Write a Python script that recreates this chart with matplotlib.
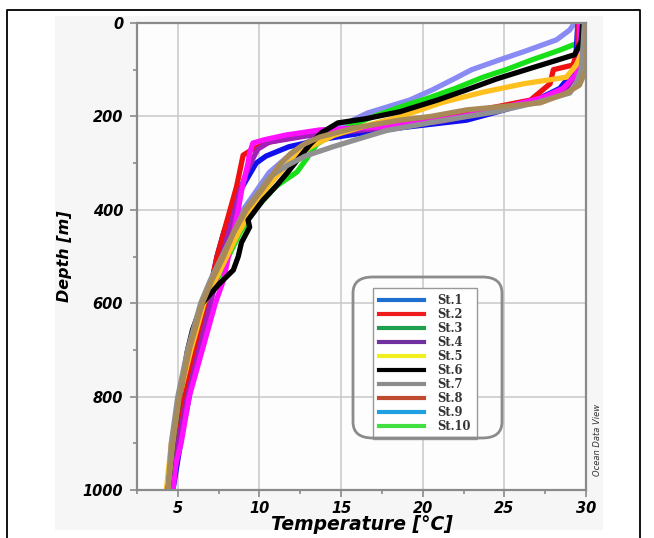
import numpy as np
import matplotlib.pyplot as plt
from matplotlib.lines import Line2D
from matplotlib.patches import FancyBboxPatch, Rectangle

# station profiles: depth (m) and temperature (degC)
st_names = ['St.1', 'St.2', 'St.3', 'St.4', 'St.5', 'St.6', 'St.7', 'St.8', 'St.9', 'St.10']
leg_colors = ['#1f6fd0', '#ee1c1c', '#1fa050', '#7030a0', '#f0f020',
              '#000000', '#8c8c8c', '#c04a30', '#20a0e0', '#40e040']

lav_d = [0, 15, 36, 60, 79, 100, 120, 143, 165, 193, 210, 225, 245, 265, 290, 320, 360, 400, 450, 500, 560, 600, 700, 800, 900, 1000]
lav_t = [29.3, 29.0, 28.2, 26.3, 24.7, 23.0, 21.9, 20.6, 19.2, 16.6, 15.6, 14.6, 13.4, 12.5, 11.6, 10.6, 9.8, 9.0, 8.3, 7.8, 7.1, 6.7, 6.0, 5.4, 4.9, 4.5]

grn_d = [0, 40, 58, 80, 100, 116, 140, 160, 180, 200, 220, 240, 260, 290, 319, 350, 400, 450, 500, 550, 600, 700, 800, 900, 1000]
grn_t = [29.8, 29.7, 28.4, 26.6, 25.1, 23.7, 22.0, 20.4, 18.6, 17.0, 15.6, 14.4, 13.5, 12.9, 12.3, 11.0, 9.7, 8.8, 8.1, 7.4, 6.9, 6.1, 5.5, 5.0, 4.6]

blu_d = [0, 60, 100, 140, 169, 190, 208, 225, 240, 250, 265, 285, 300, 330, 360, 400, 450, 500, 600, 700, 800, 871, 936, 1000]
blu_t = [29.5, 29.4, 29.3, 28.4, 26.7, 24.6, 22.7, 18.5, 15.5, 13.7, 11.8, 10.4, 9.8, 9.3, 8.8, 8.3, 7.8, 7.4, 6.8, 6.1, 5.7, 5.3, 5.0, 4.7]

red_d = [0, 60, 90, 100, 130, 165, 190, 210, 225, 240, 255, 270, 283, 300, 350, 400, 450, 500, 600, 700, 800, 900, 1000]
red_t = [29.5, 29.5, 29.2, 28.0, 27.8, 26.6, 23.0, 19.5, 15.8, 12.7, 10.6, 9.6, 9.0, 8.9, 8.6, 8.2, 7.8, 7.4, 6.8, 6.0, 5.4, 4.9, 4.5]

pur_d = [0, 70, 110, 140, 165, 190, 210, 225, 240, 255, 270, 290, 320, 360, 400, 450, 500, 600, 700, 800, 900, 1000]
pur_t = [29.6, 29.6, 29.4, 28.8, 27.0, 24.0, 21.2, 17.5, 13.2, 10.6, 9.9, 9.6, 9.2, 8.8, 8.5, 8.1, 7.7, 7.0, 6.3, 5.6, 5.0, 4.6]

mag_d = [0, 80, 110, 140, 160, 185, 200, 214, 222, 229, 240, 250, 257, 278, 300, 330, 360, 400, 450, 500, 550, 600, 700, 800, 900, 942, 1000]
mag_t = [29.6, 29.6, 29.4, 28.6, 27.3, 24.5, 22.4, 19.8, 17.8, 13.7, 11.6, 10.3, 9.6, 9.4, 9.3, 9.1, 8.9, 8.7, 8.4, 8.1, 7.8, 7.3, 6.5, 5.7, 5.2, 4.9, 4.7]

yel_d = [0, 60, 90, 116, 130, 148, 170, 201, 220, 240, 260, 278, 300, 330, 360, 400, 450, 500, 550, 600, 700, 800, 900, 1000]
yel_t = [29.9, 29.8, 29.4, 28.8, 26.2, 23.7, 21.2, 18.6, 16.5, 14.6, 13.4, 12.5, 11.8, 11.0, 10.3, 9.5, 8.7, 8.0, 7.3, 6.6, 5.8, 5.1, 4.6, 4.3]

blk_d = [0, 40, 68, 96, 120, 143, 165, 190, 205, 214, 235, 260, 290, 321, 350, 380, 422, 437, 470, 500, 529, 560, 600, 657, 700, 800, 900, 1000]
blk_t = [29.8, 29.7, 29.3, 26.7, 24.5, 22.7, 20.9, 18.6, 16.5, 14.8, 13.8, 13.1, 12.4, 11.7, 11.0, 10.2, 9.3, 9.4, 8.9, 8.7, 8.4, 7.5, 6.5, 5.9, 5.6, 5.1, 4.7, 4.4]

gry_d = [0, 60, 100, 130, 150, 170, 190, 210, 230, 250, 265, 285, 305, 330, 360, 400, 450, 500, 550, 600, 700, 800, 900, 1000]
gry_t = [29.9, 29.8, 29.7, 29.4, 29.0, 27.0, 24.5, 21.0, 17.8, 15.9, 14.5, 12.8, 11.7, 10.6, 10.0, 9.1, 8.4, 7.7, 7.0, 6.4, 5.6, 5.0, 4.6, 4.4]

tan_d = [0, 50, 100, 133, 150, 171, 186, 200, 208, 225, 244, 260, 280, 305, 336, 360, 400, 450, 500, 550, 600, 700, 800, 900, 1000]
tan_t = [30.0, 30.0, 30.0, 29.6, 28.8, 27.2, 22.7, 20.5, 18.6, 15.8, 13.7, 12.7, 11.9, 11.2, 10.6, 10.1, 9.2, 8.4, 7.8, 7.1, 6.5, 5.7, 5.1, 4.7, 4.4]

profiles = [
    (lav_d, lav_t, '#8a8af5'),
    (grn_d, grn_t, '#18e018'),
    (blu_d, blu_t, '#1010ee'),
    (red_d, red_t, '#f01010'),
    (pur_d, pur_t, '#a020b8'),
    (mag_d, mag_t, '#ff10ff'),
    (yel_d, yel_t, '#ffc020'),
    (blk_d, blk_t, '#000000'),
    (gry_d, gry_t, '#909090'),
    (tan_d, tan_t, '#a88a58'),
]

W, H = 654, 538
fig = plt.figure(figsize=(W / 100, H / 100), dpi=100)
fig.patch.set_facecolor('white')

# light gray panel and black frame of the original figure
fig.add_artist(Rectangle((55 / W, 1 - 530 / H), 548 / W, 514 / H, transform=fig.transFigure,
                         facecolor='#f6f6f6', edgecolor='none', zorder=0))
fig.add_artist(Line2D([7 / W, 7 / W, 640 / W, 640 / W], [0, 1 - 10 / H, 1 - 10 / H, 0],
                      transform=fig.transFigure, color='black', lw=1.3))

ax = fig.add_axes([137 / W, 1 - 490 / H, 449 / W, 467 / H])
ax.set_facecolor('#fdfdfd')

for d, t, c in profiles:
    ax.plot(t, d, color=c, lw=3.8, solid_joinstyle='round', solid_capstyle='round')

ax.set_xlim(2.5, 30)
ax.set_ylim(1000, 0)
ax.set_xticks([5, 10, 15, 20, 25, 30])
ax.set_xticks([2.5, 7.5, 12.5, 17.5, 22.5, 27.5], minor=True)
ax.set_yticks([0, 200, 400, 600, 800, 1000])
ax.set_yticks([100, 300, 500, 700, 900], minor=True)
ax.grid(True, which='major', color='#c8c8c8', lw=1.1)
ax.set_axisbelow(True)
for s in ax.spines.values():
    s.set_color('#8a8a8a')
    s.set_linewidth(1.6)
ax.tick_params(which='both', color='#8a8a8a', width=1.2, direction='out')
ax.tick_params(which='major', length=5, labelsize=10.5)
ax.tick_params(axis='x', which='major', pad=3)
ax.tick_params(axis='y', which='major', pad=5)
ax.tick_params(which='minor', length=3)
for lab in ax.get_xticklabels() + ax.get_yticklabels():
    lab.set_fontweight('bold')
    lab.set_fontstyle('italic')
ax.set_xlabel('Temperature [°C]', fontsize=13.5, fontweight='bold', fontstyle='italic', va='center')
ax.xaxis.set_label_coords(0.5, -(525 - 490) / 467)
ax.set_ylabel('Depth [m]', fontsize=11.5, fontweight='bold', fontstyle='italic', va='center')
ax.yaxis.set_label_coords(-(137 - 64) / 449, 0.5)

fig.text(597 / W, 1 - 440 / H, 'Ocean Data View', rotation=90, fontsize=6,
         ha='center', va='center', color='#333333', fontstyle='italic')

# legend in its own colours, inside a rounded frame
handles = [Line2D([], [], color=c, lw=3) for c in leg_colors]
leg = ax.legend(handles, st_names, loc='upper left',
                bbox_to_anchor=((373 - 137) / 449, (490 - 288) / 467),
                frameon=True, fancybox=False, edgecolor='#999999', framealpha=1,
                prop={'family': 'DejaVu Serif', 'size': 8.3, 'weight': 'bold'},
                handlelength=3.9, handletextpad=1.1, labelspacing=0.08,
                borderpad=0.55, borderaxespad=0)
leg.get_frame().set_linewidth(1.0)
for txt in leg.get_texts():
    txt.set_color('#333333')

fig.add_artist(FancyBboxPatch((353 / W, 1 - 438 / H), 149 / W, 161 / H,
                              boxstyle='round,pad=0,rounding_size=0.03',
                              transform=fig.transFigure, facecolor='none',
                              edgecolor='#8c8c8c', lw=2.0, zorder=5))

fig.savefig('out.png', dpi=100)
